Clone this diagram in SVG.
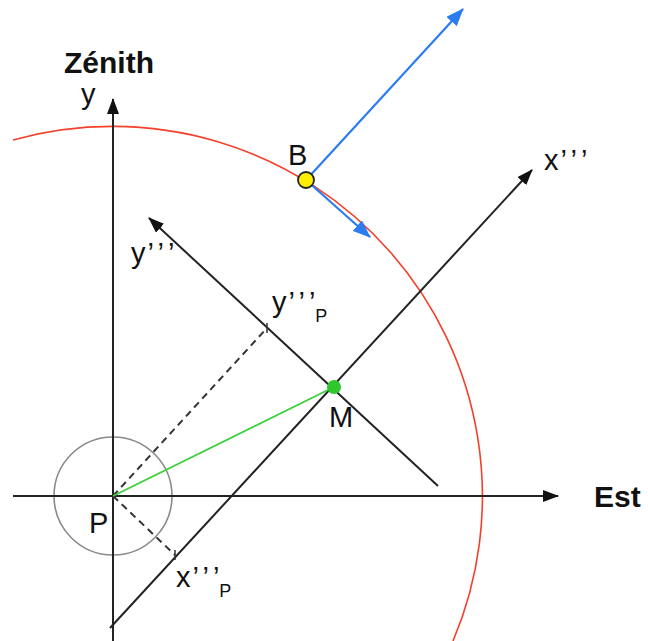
<svg xmlns="http://www.w3.org/2000/svg" width="648" height="641" viewBox="0 0 648 641">
<style>
.ax{stroke:#222;stroke-width:2;fill:none}
.dash{stroke:#333;stroke-width:2;stroke-dasharray:7 5;fill:none}
.tick{stroke:#333;stroke-width:1.5}
.blue{stroke:#2b7cf0;stroke-width:2.2;fill:none}
.lbl{font-family:"Liberation Sans",Arial,sans-serif;font-size:29px;fill:#111}
.big{font-family:"Liberation Sans",Arial,sans-serif;font-size:30px;font-weight:bold;fill:#111}
.sub{font-size:18px}
.pr{letter-spacing:4px}
</style>
<defs>
<marker id="ah" markerUnits="userSpaceOnUse" markerWidth="16" markerHeight="12" refX="15" refY="6" orient="auto">
<path d="M0,0 L16,6 L0,12 z" fill="#111"/>
</marker>
<marker id="ahb" markerUnits="userSpaceOnUse" markerWidth="18" markerHeight="14" refX="17" refY="7" orient="auto">
<path d="M0,0 L18,7 L0,14 z" fill="#2b7cf0"/>
</marker>
</defs>
<g id="circles">
<path d="M13,140 A370,370 0 0 1 453,641" fill="none" stroke="#f4402a" stroke-width="1.6"/>
<circle cx="113" cy="496" r="59" fill="none" stroke="#8a8a8a" stroke-width="1.6"/>
</g>
<g id="connectors">
<line class="ax" x1="13" y1="496" x2="558" y2="496" marker-end="url(#ah)"/>
<line class="ax" x1="113" y1="641" x2="113" y2="99" marker-end="url(#ah)"/>
<line class="ax" x1="110" y1="628" x2="532" y2="170" marker-end="url(#ah)"/>
<line class="ax" x1="438" y1="486" x2="149" y2="218" marker-end="url(#ah)"/>
<line class="dash" x1="113" y1="496" x2="267" y2="328"/>
<line class="dash" x1="113" y1="496" x2="175" y2="555"/>
<line class="tick" x1="267" y1="323" x2="267" y2="333"/>
<line class="tick" x1="175" y1="550" x2="175" y2="560"/>
<line x1="113" y1="496" x2="334" y2="387" stroke="#3ccf3c" stroke-width="1.8"/>
<line class="blue" x1="306" y1="180" x2="463" y2="9" marker-end="url(#ahb)"/>
<line class="blue" x1="306" y1="180" x2="370" y2="237" marker-end="url(#ahb)"/>
</g>
<g id="B">
<circle cx="306" cy="180" r="8" fill="#ffee00" stroke="#222" stroke-width="1.8"/>
<text class="lbl" x="288" y="165">B</text>
</g>
<g id="M">
<circle cx="334" cy="387" r="7" fill="#2ec82e"/>
<text class="lbl" x="329" y="427">M</text>
</g>
<g id="P">
<text class="lbl" x="89" y="533">P</text>
</g>
<g id="labels">
<text class="big" x="64" y="73">Zénith</text>
<text class="big" x="594" y="507">Est</text>
<text class="lbl" x="81" y="104">y</text>
<text class="lbl" x="544" y="170">x<tspan class="pr" dx="2">’’</tspan>’</text>
<text class="lbl" x="131" y="263">y<tspan class="pr" dx="2">’’</tspan>’</text>
<text class="lbl" x="272" y="312">y<tspan class="pr" dx="2">’’</tspan>’<tspan class="sub" dy="10">P</tspan></text>
<text class="lbl" x="176" y="587">x<tspan class="pr" dx="2">’’</tspan>’<tspan class="sub" dy="10">P</tspan></text>
</g>
</svg>
